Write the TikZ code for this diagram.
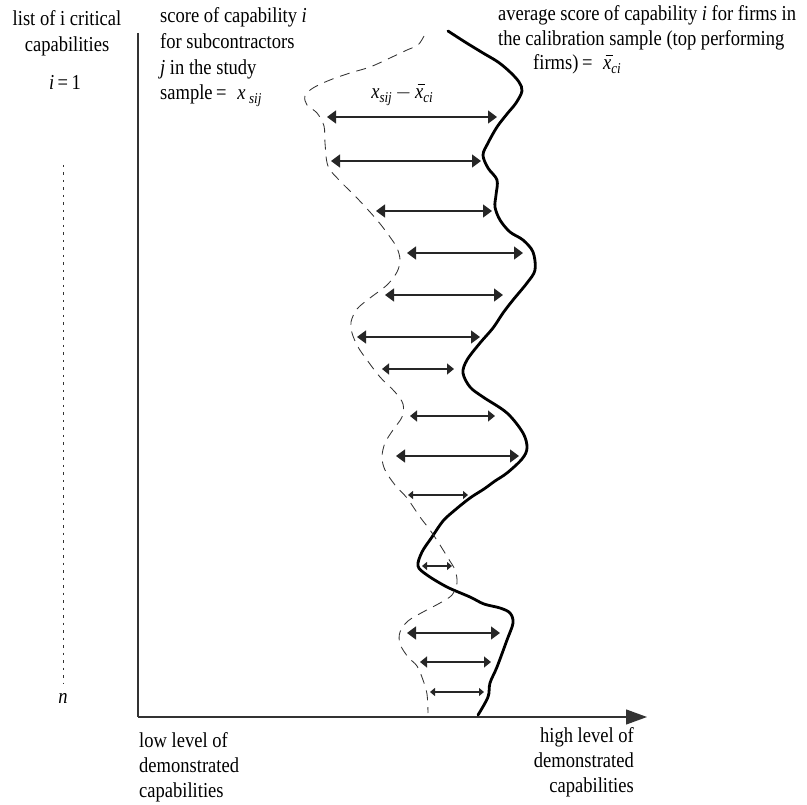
\documentclass[tikz,border=0pt]{standalone}
\usepackage{fontspec}
\setmainfont{Liberation Serif}[FakeStretch=0.87]
\usetikzlibrary{arrows.meta}
\newcommand\mysub[1]{\raisebox{-0.4ex}{\fontsize{15}{15}\selectfont\itshape #1}}
\newcommand\mybarx{\makebox[0pt][l]{\hspace{0.12em}\rule[0.64em]{0.36em}{0.045em}}\textit{x}}
\begin{document}
\begin{tikzpicture}[x=1pt,y=-1pt,
  lbl/.style={inner sep=0pt,font=\fontsize{21.3}{25}\selectfont},
  axisline/.style={draw=black!80,line width=1.3pt},
  solidcurve/.style={line width=2.8pt,line join=round,line cap=round},
  dashcurve/.style={line width=0.85pt,black!80,dash pattern=on 10pt off 7pt},
  dimL/.style={draw=black!85,line width=1.4pt,{Triangle[length=9pt,width=13pt]}-{Triangle[length=9pt,width=13pt]}},
  dimM/.style={draw=black!85,line width=1.3pt,{Triangle[length=7pt,width=11pt]}-{Triangle[length=7pt,width=11pt]}},
  dimS/.style={draw=black!85,line width=1.1pt,{Triangle[length=5pt,width=8pt]}-{Triangle[length=5pt,width=8pt]}}]
\useasboundingbox (0,0) rectangle (807,805);

% axes
\coordinate (vtop) at (138,33);
\coordinate (orig) at (138,717);
\coordinate (htip) at (647,717);
\draw[axisline] (vtop) -- (orig);
\draw[axisline,-{Triangle[length=21pt,width=15pt]}] (orig) -- (htip);

% dotted index line
\coordinate (dtop) at (63,165);
\coordinate (dbot) at (63,683);
\draw[line width=0.9pt,black!80,dash pattern=on 2.5pt off 5pt] (dtop) -- (dbot);

% left texts
\node[lbl,anchor=base] (l1) at (67,26) {list of i critical};
\node[lbl,anchor=base] (l2) at (67,52) {capabilities};
\node[lbl,anchor=base] (l3) at (65,90) {\textit{i}\,=\,1};
\node[lbl,anchor=base] (ln) at (63,703) {\textit{n}};

% score text
\node[lbl,anchor=base west] (s1) at (160,23) {score of capability \textit{i}};
\node[lbl,anchor=base west] (s2) at (160,49) {for subcontractors};
\node[lbl,anchor=base west] (s3) at (160,75) {\textit{j} in the study};
\node[lbl,anchor=base west] (s4) at (160,100) {sample\,=\enspace\textit{x}\,\mysub{sij}};

% average text
\node[lbl,anchor=base west] (r1) at (498,21) {average score of capability \textit{i} for firms in};
\node[lbl,anchor=base west] (r2) at (498,46) {the calibration sample (top performing};
\node[lbl,anchor=base west] (r3) at (533,70) {firms)\,=\enspace\mybarx\mysub{ci}};

% difference label
\node[lbl,anchor=base] (dl) at (402,99) {\textit{x}\mysub{sij}\,$-$\,\mybarx\mysub{ci}};

% bottom texts
\node[lbl,anchor=base west] (b1) at (139,747) {low level of};
\node[lbl,anchor=base west] (b2) at (139,772) {demonstrated};
\node[lbl,anchor=base west] (b3) at (139,797) {capabilities};
\node[lbl,anchor=base east] (h1) at (634,742) {high level of};
\node[lbl,anchor=base east] (h2) at (634,767) {demonstrated};
\node[lbl,anchor=base east] (h3) at (634,792) {capabilities};

% solid curve (calibration sample)
\draw[solidcurve] plot[smooth,tension=0.55] coordinates {
(448,31) (465,42) (483,53) (498,62) (510,72) (519,82) (522,91) (516,103) (507,114)
(497,127) (488,143) (483,155) (488,168) (497,180) (496,195) (495,207) (500,220)
(510,232) (523,240) (533,252) (535,270) (527,283) (513,300) (503,313) (493,328)
(480,343) (467,360) (463,373) (470,387) (483,397) (507,413) (523,433) (527,448)
(522,459) (507,473) (495,481) (484,489) (470,498) (455,510) (443,521) (432,537)
(422,552) (418,566) (427,575) (447,587) (470,597) (484,604) (500,608) (510,613)
(513,623) (507,640) (497,667) (490,683) (488,697) (478,715)};

% dashed curve (study sample)
\draw[dashcurve] plot[smooth,tension=0.55] coordinates {
(424,36) (418,45) (407,50) (390,58) (370,67) (350,73) (330,80) (313,88) (305,96)
(307,105) (317,113) (324,126) (325,143) (328,166) (340,181) (357,198) (377,220)
(390,237) (397,248) (400,260) (397,272) (387,285) (370,298) (357,309) (351,322)
(352,333) (358,347) (367,360) (380,377) (395,392) (403,404) (402,417) (393,430)
(385,443) (382,457) (385,470) (395,485) (407,498) (420,517) (430,530) (440,545)
(448,558) (455,570) (457,583) (452,595) (440,603) (423,612) (408,621) (400,632)
(400,644) (408,657) (417,666) (423,680) (427,694) (428,713)};

% difference arrows
\coordinate (a1l) at (327,117);  \coordinate (a1r) at (497,117);
\coordinate (a2l) at (331,161);  \coordinate (a2r) at (481,161);
\coordinate (a3l) at (376,211);  \coordinate (a3r) at (492,211);
\coordinate (a4l) at (407,253);  \coordinate (a4r) at (523,253);
\coordinate (a5l) at (385,295);  \coordinate (a5r) at (503,295);
\coordinate (a6l) at (357,337);  \coordinate (a6r) at (480,337);
\coordinate (a7l) at (382,369);  \coordinate (a7r) at (454,369);
\coordinate (a8l) at (410,416);  \coordinate (a8r) at (495,416);
\coordinate (a9l) at (396,456);  \coordinate (a9r) at (519,456);
\coordinate (a10l) at (408,495); \coordinate (a10r) at (468,495);
\coordinate (a11l) at (422,566); \coordinate (a11r) at (452,566);
\coordinate (a12l) at (407,633); \coordinate (a12r) at (500,633);
\coordinate (a13l) at (420,662); \coordinate (a13r) at (491,662);
\coordinate (a14l) at (430,692); \coordinate (a14r) at (484,692);
\draw[dimL] (a1l) -- (a1r);
\draw[dimL] (a2l) -- (a2r);
\draw[dimL] (a3l) -- (a3r);
\draw[dimL] (a4l) -- (a4r);
\draw[dimL] (a5l) -- (a5r);
\draw[dimL] (a6l) -- (a6r);
\draw[dimM] (a7l) -- (a7r);
\draw[dimM] (a8l) -- (a8r);
\draw[dimL] (a9l) -- (a9r);
\draw[dimS] (a10l) -- (a10r);
\draw[dimS] (a11l) -- (a11r);
\draw[dimL] (a12l) -- (a12r);
\draw[dimM] (a13l) -- (a13r);
\draw[dimS] (a14l) -- (a14r);
\end{tikzpicture}
\end{document}
